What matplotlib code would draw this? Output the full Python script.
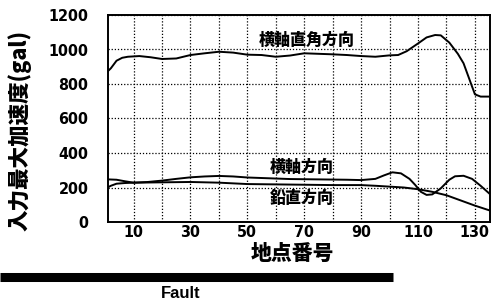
import matplotlib
matplotlib.use("Agg")
import matplotlib.pyplot as plt
from matplotlib.lines import Line2D
from matplotlib import font_manager

# Data
x_perp = [1, 2, 4, 6, 8, 12, 16, 20, 25, 30, 35, 40, 45, 50, 55, 60, 65, 70, 75, 80, 85, 90, 95,
          100, 103, 106, 110, 113, 116, 118, 121, 124, 126, 128, 130, 132, 135]
y_perp = [875, 891, 935, 952, 958, 962, 955, 945, 948, 968, 978, 987, 982, 970, 968, 958, 965, 978,
          975, 972, 968, 962, 958, 966, 968, 990, 1035, 1070, 1084, 1082, 1040, 975, 920, 830, 740, 727, 727]

x_axial = [1, 4, 7, 10, 15, 20, 25, 30, 35, 40, 45, 50, 55, 60, 65, 70, 75, 80, 85, 90, 95, 98,
           101, 104, 107, 109, 111, 113, 115, 118, 121, 123, 126, 129, 132, 135]
y_axial = [247, 245, 236, 228, 232, 240, 250, 259, 264, 267, 264, 258, 255, 252, 249, 248, 247, 246,
           245, 243, 250, 270, 288, 282, 250, 215, 175, 157, 160, 195, 245, 265, 268, 250, 210, 166]

x_vert = [1, 2, 4, 7, 10, 20, 30, 40, 50, 60, 70, 80, 90, 95, 100, 105, 110, 115, 120, 125, 130, 135]
y_vert = [201, 210, 222, 226, 228, 230, 232, 228, 220, 218, 216, 214, 214, 210, 205, 200, 190, 175,
          155, 125, 95, 68]

labels = ["横軸直角方向", "横軸方向", "鉛直方向"]
label_pos = [(71, 1055), (69, 321), (69, 137)]

x_grid = list(range(10, 131, 10))
x_ticklabels = [str(v) if (v // 10) % 2 == 1 else "" for v in x_grid]
y_ticks = [0, 200, 400, 600, 800, 1000, 1200]

plt.rcParams['font.family'] = ['Noto Sans CJK JP', 'DejaVu Sans']

names = {f.name for f in font_manager.fontManager.ttflist}
if 'Liberation Sans Narrow' in names:
    num_fp = font_manager.FontProperties(family='Liberation Sans Narrow', weight='bold', size=12.5)
else:
    num_fp = font_manager.FontProperties(family='DejaVu Sans', stretch='condensed', weight='bold', size=11.5)

fig = plt.figure(figsize=(4.96, 3.05), dpi=100)
ax = fig.add_axes([108/496, 1-222/305, 382/496, 207/305])

for xs, ys in [(x_perp, y_perp), (x_axial, y_axial), (x_vert, y_vert)]:
    ax.plot(xs, ys, color='black', lw=1.4, zorder=3)

ax.set_xlim(1, 135.3)
ax.set_ylim(0, 1200)
ax.set_xticks(x_grid)
ax.set_xticklabels(x_ticklabels)
ax.set_yticks(y_ticks)
ax.grid(True, color='black', linestyle=(0, (1, 1.5)), linewidth=0.9)
ax.tick_params(axis='x', length=0, pad=2)
ax.tick_params(axis='y', length=0, pad=14)
for s in ax.spines.values():
    s.set_linewidth(1.4)

for t in ax.get_xticklabels() + ax.get_yticklabels():
    t.set_fontproperties(num_fp)

for lab, (lx, ly) in zip(labels, label_pos):
    ax.text(lx, ly, lab, ha='center', va='center', fontsize=11.5, fontweight='black', zorder=4)

fig.text(292/496, 1-254/305, "地点番号", ha='center', va='center', fontsize=15, fontweight='black')
fig.text(20/496, 1-130/305, "入力最大加速度(gal)", ha='center', va='center', rotation=90,
         fontsize=15.5, fontweight='black')

fig.add_artist(Line2D([0, 393/496], [1-276.5/305, 1-276.5/305], color='black', lw=6.5,
                      transform=fig.transFigure, solid_capstyle='butt'))
fig.text(181/496, 1-293/305, "Fault", ha='center', va='center', fontsize=12, fontweight='bold',
         family=['Liberation Sans', 'DejaVu Sans'])

fig.savefig("out.png", dpi=100)
